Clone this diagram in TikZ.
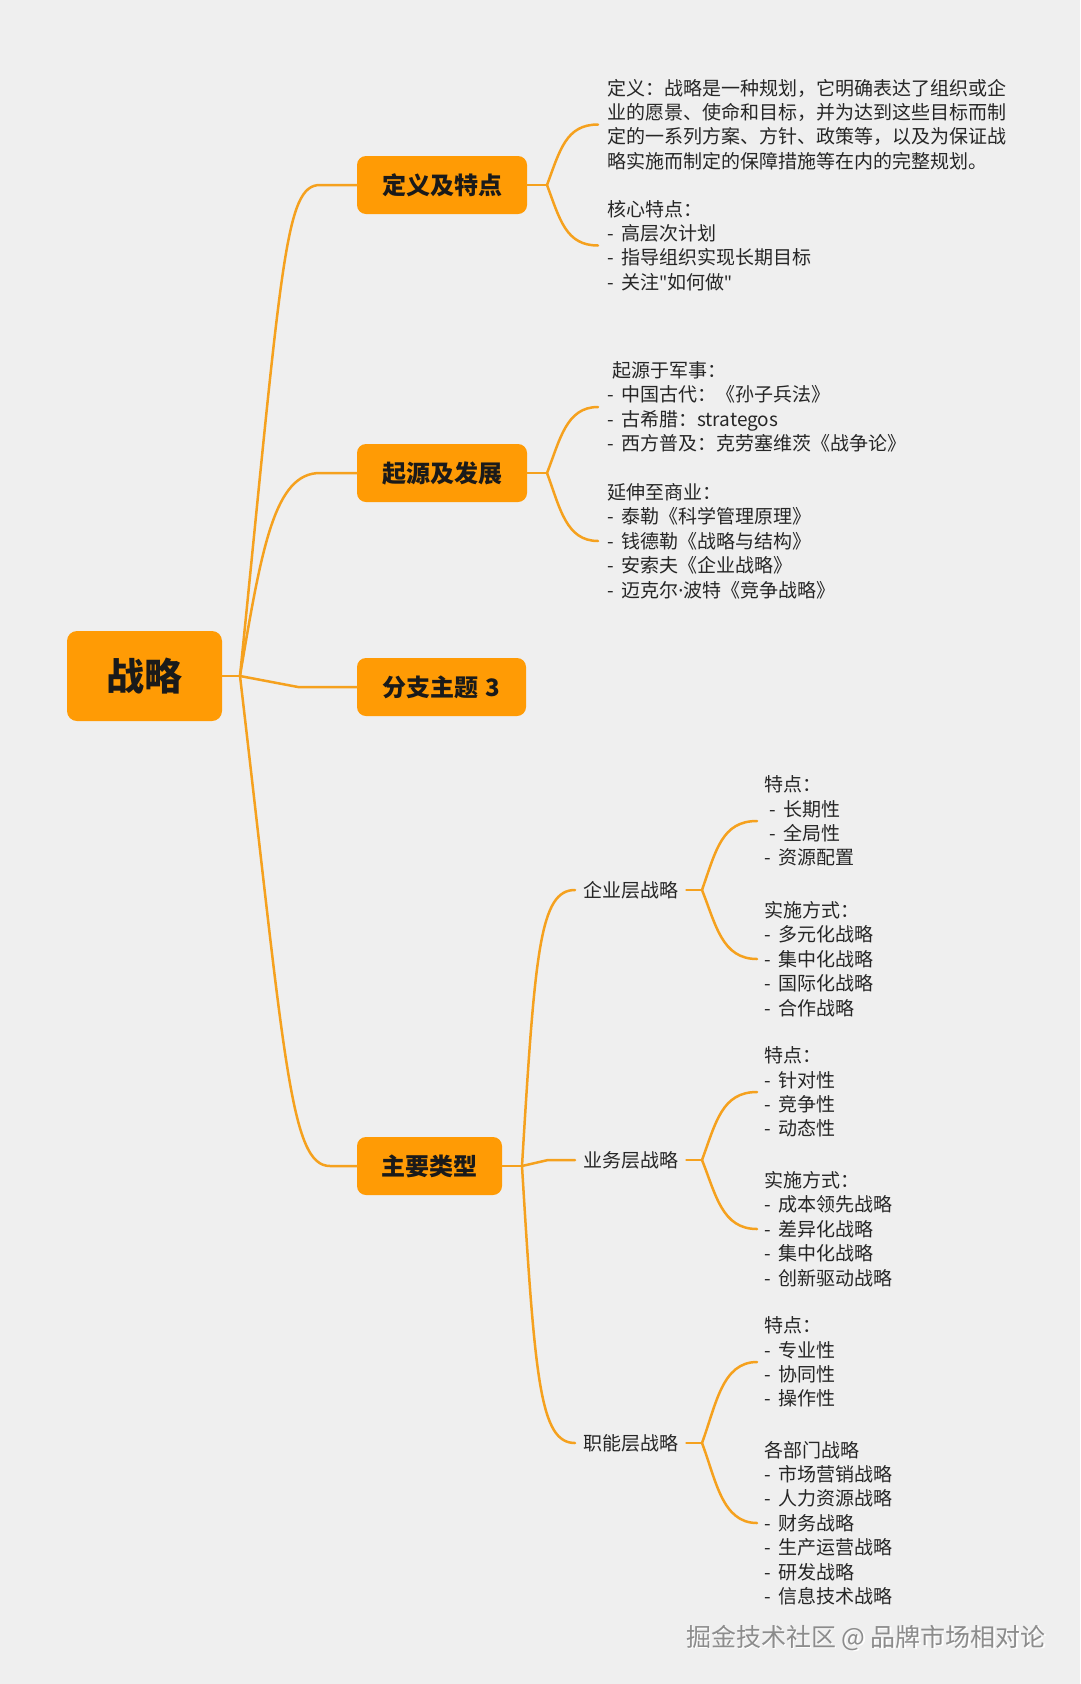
\documentclass[tikz,border=0pt]{standalone}
\usepackage{fontspec}
\setmainfont{Noto Sans CJK SC}
\newfontfamily\latinf{Noto Sans}
\newcommand\dsh{-\hspace{7.5pt}}
\definecolor{bg}{HTML}{EFEFEF}
\definecolor{boxorange}{HTML}{FF9B05}
\definecolor{lineorange}{HTML}{F5A11E}
\definecolor{txt}{HTML}{262626}
\definecolor{txtdark}{HTML}{1A1A1A}
\definecolor{wm}{HTML}{8C8C8C}
\tikzset{
  topic/.style={rounded corners=9pt, fill=boxorange, text=txtdark, inner sep=0pt,
    font=\fontsize{24}{28}\selectfont\bfseries, minimum height=58pt},
  maintopic/.style={rounded corners=10pt, fill=boxorange, text=txtdark, inner sep=0pt,
    font=\fontsize{38}{44}\selectfont\bfseries, minimum width=155pt, minimum height=90pt},
  sub/.style={font=\fontsize{19}{24}\selectfont, text=txt, inner xsep=8pt, inner ysep=2pt},
  lab/.style={font=\fontsize{19}{24.4}\selectfont, text=txt, align=left, anchor=west,
    inner xsep=8pt, inner ysep=0pt},
  conn/.style={draw=lineorange, line width=2.5pt, line cap=round, line join=round},
}
\begin{document}
\begin{tikzpicture}[x=1pt,y=-1pt]
\fill[bg] (0,0) rectangle (1080,1684);
\useasboundingbox (0,0) rectangle (1080,1684);

% main node
\node[maintopic] (root) at (144.5,676) {战略};
% first level
\node[topic, minimum width=170pt] (def) at (442,185) {定义及特点};
\node[topic, minimum width=170pt] (org) at (442,473) {起源及发展};
\node[topic, minimum width=169pt] (br3) at (441.5,687) {分支主题\hspace{7pt}3};
\node[topic, minimum width=145pt] (typ) at (429.5,1166) {主要类型};

\coordinate (hub) at (240,676);
\draw[conn] (root.east) -- (hub);
\draw[conn] (hub) .. controls (282,260) and (285,185) .. (320,185) -- (def.west);
\draw[conn] (hub) .. controls (262,545) and (275,473) .. (320,473) -- (org.west);
\draw[conn] (hub) -- (298,687) -- (br3.west);
\draw[conn] (hub) .. controls (285,1060) and (290,1166) .. (330,1166) -- (typ.west);

% definition texts
\node[lab, inner xsep=9pt] (def1) at (598,124.5) {定义：战略是一种规划，它明确表达了组织或企\\业的愿景、使命和目标，并为达到这些目标而制\\定的一系列方案、方针、政策等，以及为保证战\\略实施而制定的保障措施等在内的完整规划。};
\node[lab, inner xsep=9pt] (def2) at (598,245.5) {核心特点：\\\dsh 高层次计划\\\dsh 指导组织实现长期目标\\\dsh 关注{\latinf\char"22}如何做{\latinf\char"22}};
\coordinate (hdef) at (547,185);
\draw[conn] (def.east) -- (hdef);
\draw[conn] (hdef) .. controls (560,150) and (566,124.5) .. (def1.west);
\draw[conn] (hdef) .. controls (560,220) and (566,245.5) .. (def2.west);

% origin texts
\node[lab, inner xsep=9pt] (org1) at (598,407) {\hspace{5pt}起源于军事：\\\dsh 中国古代：《孙子兵法》\\\dsh 古希腊：strategos\\\dsh 西方普及：克劳塞维茨《战争论》};
\node[lab, inner xsep=9pt] (org2) at (598,541) {延伸至商业：\\\dsh 泰勒《科学管理原理》\\\dsh 钱德勒《战略与结构》\\\dsh 安索夫《企业战略》\\\dsh 迈克尔{\latinf ·}波特《竞争战略》};
\coordinate (horg) at (547,473);
\draw[conn] (org.east) -- (horg);
\draw[conn] (horg) .. controls (560,440) and (566,407) .. (org1.west);
\draw[conn] (horg) .. controls (560,508) and (566,541) .. (org2.west);

% types second level
\node[sub, anchor=west] (qy) at (575,890) {企业层战略};
\node[sub, anchor=west] (yw) at (575,1160) {业务层战略};
\node[sub, anchor=west] (zn) at (575,1443) {职能层战略};
\coordinate (htyp) at (522,1166);
\draw[conn] (typ.east) -- (htyp);
\draw[conn] (htyp) .. controls (535,950) and (540,890) .. (qy.west);
\draw[conn] (htyp) -- (548,1160) -- (yw.west);
\draw[conn] (htyp) .. controls (535,1380) and (540,1443) .. (zn.west);

% 企业层
\node[lab, inner xsep=7pt] (qy1) at (757,821) {特点：\\\hspace{5pt}\dsh 长期性\\\hspace{5pt}\dsh 全局性\\\dsh 资源配置};
\node[lab, inner xsep=7pt] (qy2) at (757,959) {实施方式：\\\dsh 多元化战略\\\dsh 集中化战略\\\dsh 国际化战略\\\dsh 合作战略};
\coordinate (hqy) at (702,890);
\draw[conn] (qy.east) -- (hqy);
\draw[conn] (hqy) .. controls (716,850) and (722,821) .. (qy1.west);
\draw[conn] (hqy) .. controls (716,925) and (722,959) .. (qy2.west);

% 业务层
\node[lab, inner xsep=7pt] (yw1) at (757,1092) {特点：\\\dsh 针对性\\\dsh 竞争性\\\dsh 动态性};
\node[lab, inner xsep=7pt] (yw2) at (757,1229) {实施方式：\\\dsh 成本领先战略\\\dsh 差异化战略\\\dsh 集中化战略\\\dsh 创新驱动战略};
\coordinate (hyw) at (702,1160);
\draw[conn] (yw.east) -- (hyw);
\draw[conn] (hyw) .. controls (716,1122) and (722,1092) .. (yw1.west);
\draw[conn] (hyw) .. controls (716,1195) and (722,1229) .. (yw2.west);

% 职能层
\node[lab, inner xsep=7pt] (zn1) at (757,1362) {特点：\\\dsh 专业性\\\dsh 协同性\\\dsh 操作性};
\node[lab, inner xsep=7pt] (zn2) at (757,1523) {各部门战略\\\dsh 市场营销战略\\\dsh 人力资源战略\\\dsh 财务战略\\\dsh 生产运营战略\\\dsh 研发战略\\\dsh 信息技术战略};
\coordinate (hzn) at (702,1443);
\draw[conn] (zn.east) -- (hzn);
\draw[conn] (hzn) .. controls (716,1405) and (722,1362) .. (zn1.west);
\draw[conn] (hzn) .. controls (716,1480) and (722,1523) .. (zn2.west);

% watermark
\node[font=\fontsize{25}{28}\selectfont, text=white] at (867.5,1639.5) {掘金技术社区 @ 品牌市场相对论};
\node[font=\fontsize{25}{28}\selectfont, text=wm] (wmk) at (866,1638) {掘金技术社区 @ 品牌市场相对论};
\end{tikzpicture}
\end{document}
